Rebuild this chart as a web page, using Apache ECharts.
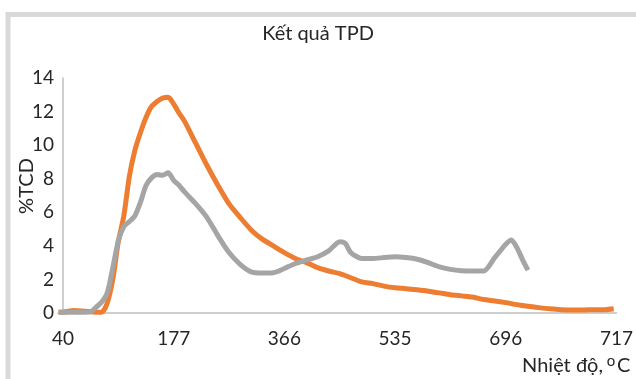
<!DOCTYPE html>
<html>
<head>
<meta charset="utf-8">
<script src="https://cdn.jsdelivr.net/npm/echarts@6/dist/echarts.min.js"></script>
<style>
html,body{margin:0;padding:0;background:#fff;}
#chart{width:636px;height:379px;}
</style>
</head>
<body>
<div id="chart"></div>
<script>
// Tick labels of the temperature axis (°C), placed every 20 sample steps
const xTickLabels = ['40', '177', '366', '535', '696', '717'];
const xTickPos = [0, 20, 40, 60, 80, 100];
const yTicks = [0, 2, 4, 6, 8, 10, 12, 14];

// Series 1 (orange): sample position and %TCD
const orangeIdx = [-0.8, 0, 2, 4, 6, 7, 8, 9, 10, 11, 12, 13, 14, 15, 16, 17, 18, 19, 20, 21, 22, 24, 26, 28, 30, 32, 34, 36, 38, 40, 42, 44, 46, 48, 50, 52, 54, 56, 58, 60, 62, 64, 66, 68, 70, 72, 74, 76, 78, 80, 82, 84, 86, 88, 90, 92, 94, 96, 98, 99.5];
const orangeVal = [0.05, 0.05, 0.15, 0.1, 0.05, 0.05, 0.6, 2.0, 4.25, 5.8, 8.15, 9.7, 10.75, 11.65, 12.3, 12.6, 12.8, 12.85, 12.45, 11.9, 11.4, 10.1, 8.8, 7.6, 6.5, 5.7, 4.95, 4.4, 4.0, 3.6, 3.25, 3.0, 2.7, 2.5, 2.35, 2.1, 1.85, 1.75, 1.6, 1.5, 1.45, 1.38, 1.3, 1.2, 1.09, 1.02, 0.95, 0.8, 0.72, 0.62, 0.5, 0.4, 0.32, 0.25, 0.2, 0.18, 0.18, 0.2, 0.2, 0.25];

// Series 2 (gray): sample position and %TCD
const grayIdx = [-0.8, 0, 2, 4, 5, 6, 7, 8, 9, 10, 11, 12, 13, 14, 15, 16, 17, 18, 19, 20, 21, 22, 24, 26, 28, 30, 32, 34, 36, 38, 40, 42, 44, 46, 48, 50, 51, 52, 54, 56, 58, 60, 62, 64, 66, 68, 70, 72, 74, 76, 78, 79, 80, 81, 82, 83, 84];
const grayVal = [0.05, 0.05, 0.05, 0.05, 0.07, 0.35, 0.65, 1.2, 2.7, 4.3, 5.15, 5.45, 5.8, 6.6, 7.6, 8.05, 8.25, 8.2, 8.35, 7.9, 7.6, 7.2, 6.5, 5.7, 4.6, 3.6, 2.9, 2.45, 2.38, 2.4, 2.65, 2.95, 3.15, 3.35, 3.7, 4.25, 4.15, 3.6, 3.25, 3.25, 3.3, 3.35, 3.3, 3.2, 3.0, 2.75, 2.6, 2.52, 2.5, 2.5, 3.3, 3.7, 4.1, 4.35, 3.9, 3.2, 2.55];

const FONT = 'Lato';
const TXT = '#262626';

function pairs(xs, ys) { return xs.map((x, i) => [x, ys[i]]); }

const chart = echarts.init(document.getElementById('chart'), null, {renderer: 'canvas'});
chart.setOption({
  animation: false,
  backgroundColor: '#ffffff',
  title: {
    text: 'Kết quả TPD',
    left: 'center',
    top: 19,
    textStyle: {fontFamily: FONT, fontSize: 20, fontWeight: 'normal', color: TXT}
  },
  grid: {left: 58, right: 18, top: 78, bottom: 66, containLabel: false},
  xAxis: {
    type: 'value',
    min: -0.9,
    max: 100,
    axisLine: {show: true, lineStyle: {color: '#bfbfbf', width: 1.5}},
    axisTick: {show: false},
    splitLine: {show: false},
    axisLabel: {
      customValues: xTickPos,
      margin: 16,
      fontFamily: FONT, fontSize: 19, color: TXT,
      formatter: function (v) {
        const k = xTickPos.indexOf(Math.round(v));
        return k >= 0 ? xTickLabels[k] : '';
      }
    }
  },
  yAxis: {
    type: 'value',
    min: 0,
    max: 14,
    interval: 2,
    axisLine: {show: true, lineStyle: {color: '#bfbfbf', width: 1.5}},
    axisTick: {show: false},
    splitLine: {show: false},
    axisLabel: {margin: 4, fontFamily: FONT, fontSize: 19, color: TXT}
  },
  graphic: [
    {type: 'rect', silent: true, z: -10,
      shape: {x: 8, y: 14.5, width: 700, height: 500},
      style: {fill: 'none', stroke: '#d9d9d9', lineWidth: 5}},
    {type: 'text', silent: true, x: 27, y: 186, rotation: Math.PI / 2,
      style: {text: '%TCD', fontFamily: FONT, fontSize: 20, fill: TXT, align: 'center', verticalAlign: 'middle'}},
    {type: 'text', silent: true, x: 603, y: 366,
      style: {text: 'Nhiệt độ,', fontFamily: FONT, fontSize: 20, fill: TXT, align: 'right', verticalAlign: 'middle'}},
    {type: 'text', silent: true, x: 611, y: 361,
      style: {text: 'o', fontFamily: FONT, fontSize: 15, fill: TXT, align: 'center', verticalAlign: 'middle'}},
    {type: 'text', silent: true, x: 617, y: 366,
      style: {text: 'C', fontFamily: FONT, fontSize: 20, fill: TXT, align: 'left', verticalAlign: 'middle'}}
  ],
  series: [
    {
      name: 'Mẫu 1', type: 'line', data: pairs(orangeIdx, orangeVal),
      showSymbol: false, smooth: 0.25, clip: false,
      lineStyle: {color: '#ED7D31', width: 5}, itemStyle: {color: '#ED7D31'}, z: 2
    },
    {
      name: 'Mẫu 2', type: 'line', data: pairs(grayIdx, grayVal),
      showSymbol: false, smooth: 0.25, clip: false,
      lineStyle: {color: '#A5A5A5', width: 5}, itemStyle: {color: '#A5A5A5'}, z: 3
    }
  ]
});
</script>
</body>
</html>
